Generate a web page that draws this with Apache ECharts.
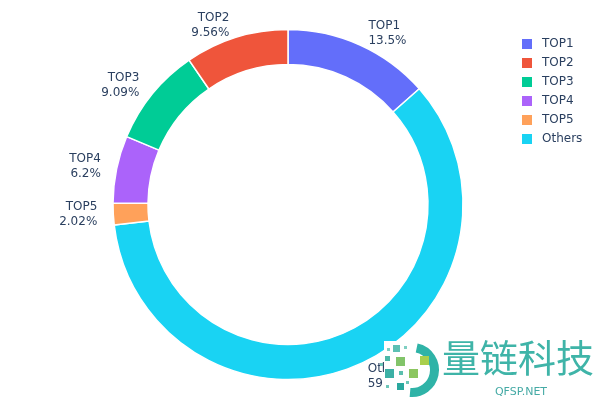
<!DOCTYPE html>
<html>
<head>
<meta charset="utf-8">
<script src="https://cdn.jsdelivr.net/npm/echarts@6/dist/echarts.min.js"></script>
<style>html,body{margin:0;padding:0;background:#fff;}#chart{width:600px;height:400px;}</style>
</head>
<body>
<div id="chart"></div>
<script>
// ---- data ----
const categories = ['TOP1', 'TOP2', 'TOP3', 'TOP4', 'TOP5', 'Others'];
const shares = [13.5, 9.56, 9.09, 6.2, 2.02, 59.6];
const colors = ['#636efa', '#EF553B', '#00cc96', '#ab63fa', '#FFA15A', '#19d3f3'];
// clockwise order from 12 o'clock
const drawOrder = ['TOP1', 'Others', 'TOP5', 'TOP4', 'TOP3', 'TOP2'];

const pieData = drawOrder.map(function (name) {
  const i = categories.indexOf(name);
  return { name: name, value: shares[i], itemStyle: { color: colors[i] } };
});

const font = 'DejaVu Sans';
const textColor = '#2a3f5f';

const chart = echarts.init(document.getElementById('chart'), null, { renderer: 'canvas' });

const wm = [];
// watermark white backing
wm.push({ type: 'rect', shape: { x: 384, y: 341, width: 216, height: 59 }, style: { fill: '#ffffff' }, z: 100 });
// logo arc
wm.push({ type: 'arc', shape: { cx: 412, cy: 370, r: 22.5, startAngle: -78 * Math.PI / 180, endAngle: 95 * Math.PI / 180, clockwise: true },
  style: { stroke: '#2fb3a7', lineWidth: 9, fill: null }, z: 101 });
// logo squares [x, y, size, color]
const sq = [
  [393, 345, 7, '#5cc0b3'], [385, 356, 5, '#4bb8a8'], [396, 357, 9, '#82c46a'], [420, 356, 9, '#a9cf4c'],
  [385, 369, 9, '#3cb0a5'], [399, 371, 4, '#5bbfae'], [409, 369, 9, '#8cc660'], [397, 383, 7, '#2aa89e'],
  [387, 348, 3, '#7fcfc2'], [404, 346, 3, '#7fcfc2'], [386, 385, 3, '#6cc6b8'], [406, 381, 3, '#6cc6b8'],
  [380, 363, 3, '#6cc6b8']
];
sq.forEach(function (s) {
  wm.push({ type: 'rect', shape: { x: s[0], y: s[1], width: s[2], height: s[2] }, style: { fill: s[3] }, z: 101 });
});
wm.push({ type: 'text', z: 101, style: { text: '量链科技', x: 442, y: 358, fill: '#3fb4a8', font: '38px "Noto Sans CJK SC"', textVerticalAlign: 'middle', textAlign: 'left' } });
wm.push({ type: 'text', z: 101, style: { text: 'QFSP.NET', x: 521, y: 392, fill: '#45aaa5', font: '11px "DejaVu Sans"', textVerticalAlign: 'middle', textAlign: 'center' } });

chart.setOption({
  animation: false,
  backgroundColor: '#ffffff',
  textStyle: { fontFamily: font },
  legend: {
    orient: 'vertical',
    left: 515,
    top: 32,
    data: categories,
    icon: 'rect',
    itemWidth: 12,
    itemHeight: 12,
    itemGap: 5,
    textStyle: { fontFamily: font, fontSize: 12, color: textColor, lineHeight: 12, padding: [0, 0, 0, 4] }
  },
  series: [{
    type: 'pie',
    center: [288, 204.5],
    radius: [140, 175],
    startAngle: 90,
    clockwise: true,
    avoidLabelOverlap: false,
    data: pieData,
    itemStyle: { borderColor: '#ffffff', borderWidth: 1.5 },
    label: {
      show: true,
      position: 'outside',
      formatter: '{b}\n{c}%',
      fontFamily: font,
      fontSize: 12,
      lineHeight: 15,
      color: textColor,
      distanceToLabelLine: 3
    },
    labelLine: { show: false, length: 13, length2: 0 },
    emphasis: { scale: false }
  }],
  graphic: { elements: wm }
});
</script>
</body>
</html>
